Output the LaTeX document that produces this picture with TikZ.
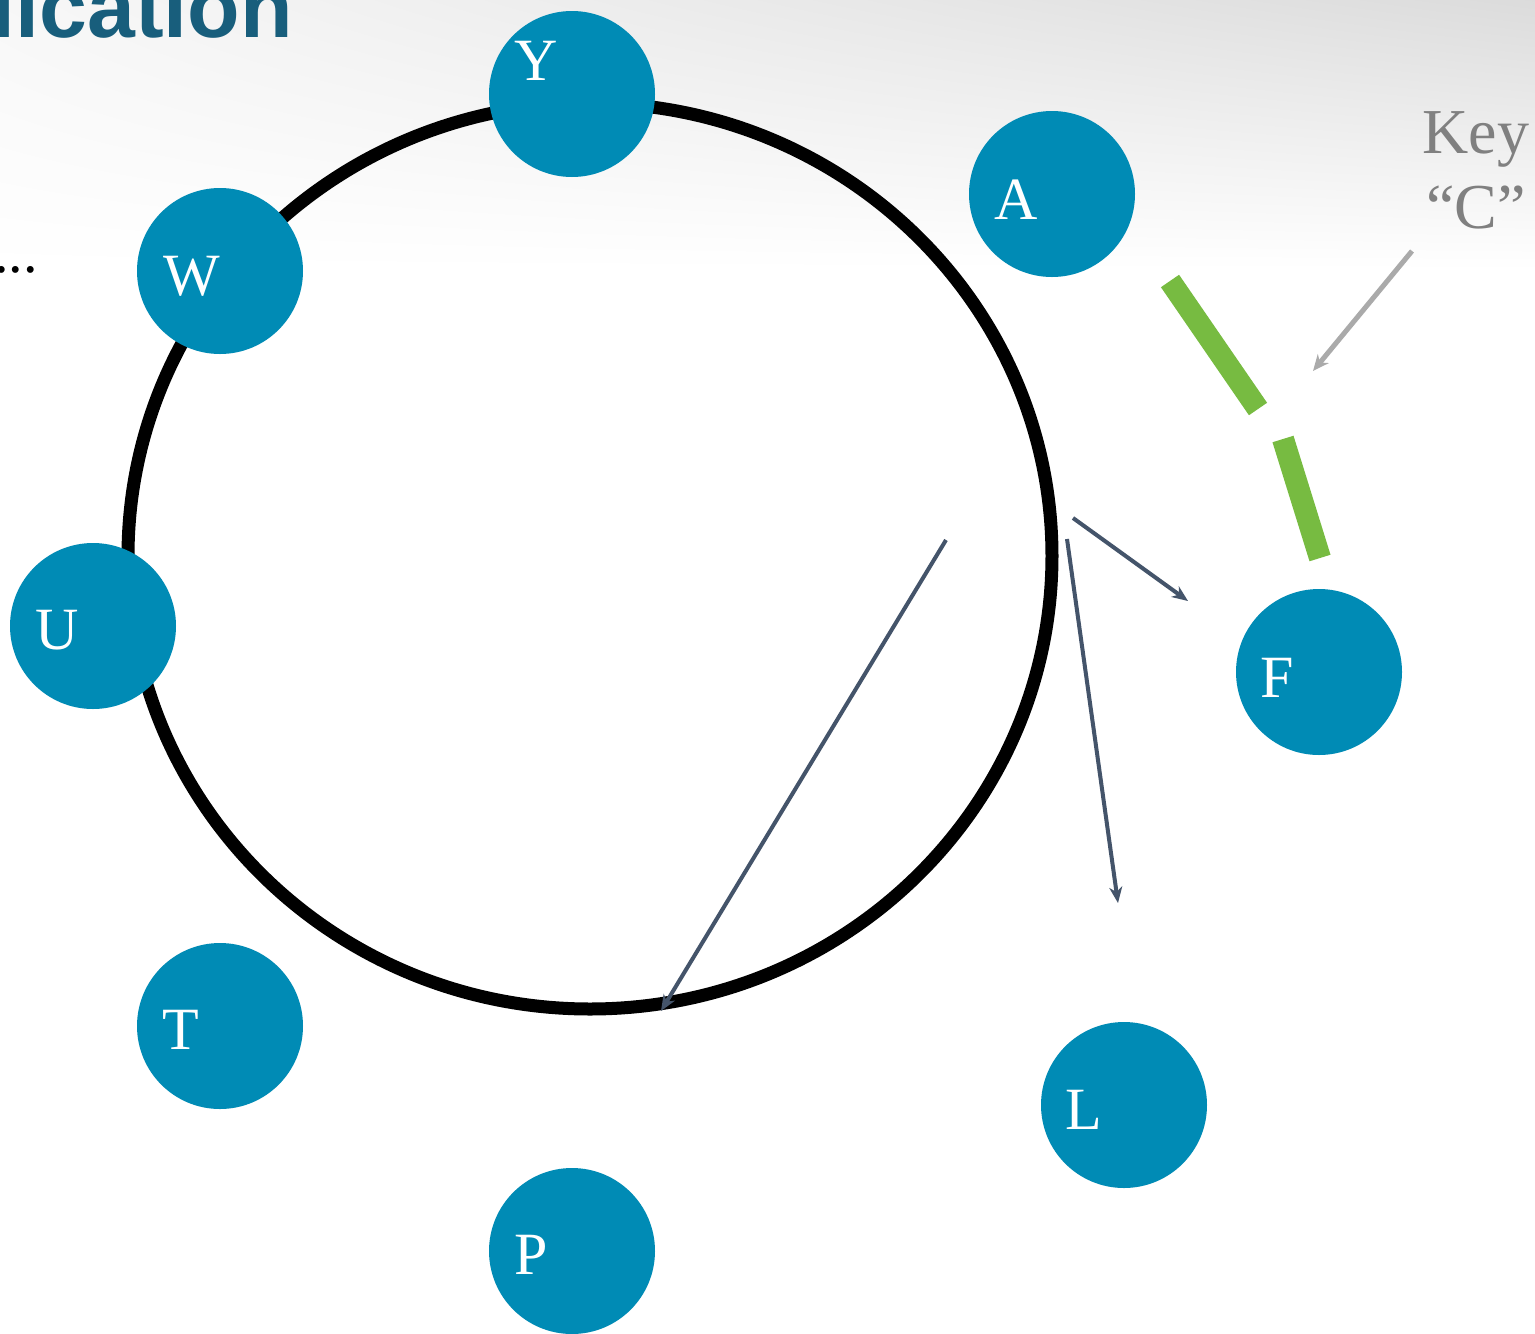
\documentclass[tikz,border=0pt]{standalone}
\usepackage{fontspec}
\setmainfont{Liberation Serif}
\newfontfamily\titlefont{Liberation Sans}
\usetikzlibrary{arrows.meta,shadings}
\definecolor{nodeblue}{RGB}{0,139,181}
\definecolor{ringarrow}{RGB}{68,84,106}
\definecolor{keygreen}{RGB}{119,187,65}
\definecolor{keygray}{RGB}{128,128,128}
\definecolor{pointergray}{RGB}{170,170,170}
\definecolor{titleblue}{RGB}{24,94,124}
\tikzset{
  ball/.style={circle, fill=nodeblue, minimum size=166pt, inner sep=0pt},
  balltext/.style={text=white, inner sep=0pt, font=\fontsize{60}{60}\selectfont},
  ringline/.style={line width=13pt, black},
  hoparrow/.style={line width=4pt, ringarrow, -{Stealth[length=16pt,width=13pt,inset=5pt]}},
  keybar/.style={line width=22pt, keygreen},
  keypointer/.style={line width=5pt, pointergray, -{Stealth[length=16pt,width=14pt,inset=5pt]}},
}
\begin{document}
\begin{tikzpicture}[x=1pt,y=-1pt]
\useasboundingbox (0,0) rectangle (1535,1334);
\fill[white] (0,0) rectangle (1535,1334);
\shade[upper left=black!3, upper right=black!14, lower left=white, lower right=white] (0,0) rectangle (1535,270);
% title fragment
\node[anchor=base east, inner sep=0pt, text=titleblue, font=\titlefont\bfseries\fontsize{86}{86}\selectfont] (title) at (293,37) {lication};
\node[anchor=base east, inner sep=0pt, font=\fontsize{58}{58}\selectfont] (dots) at (38,272) {...};
% ring
\draw[ringline] (590,556) ellipse [x radius=462, y radius=453];
% nodes
\node[ball] (Y) at (572,94) {};
\node[ball] (W) at (220,271) {};
\node[ball] (U) at (93,626) {};
\node[ball] (T) at (220,1026) {};
\node[ball] (P) at (572,1251) {};
\node[ball] (L) at (1124,1105) {};
\node[ball] (F) at (1319,672) {};
\node[ball] (A) at (1052,194) {};
\node[balltext] (Ylbl) at (536,61) {Y};
\node[balltext] (Wlbl) at (192,276) {W};
\node[balltext] (Ulbl) at (57,630) {U};
\node[balltext] (Tlbl) at (181,1030) {T};
\node[balltext] (Plbl) at (531,1255) {P};
\node[balltext] (Llbl) at (1084,1110) {L};
\node[balltext] (Flbl) at (1277,678) {F};
\node[balltext] (Albl) at (1016,200) {A};
% hop arrows
\coordinate (h1s) at (1073,518);
\coordinate (h1e) at (1188,601);
\coordinate (h2s) at (1067,539);
\coordinate (h2e) at (1118,903);
\coordinate (h3s) at (946,540);
\coordinate (h3e) at (661,1011);
\draw[hoparrow] (h1s) -- (h1e);
\draw[hoparrow] (h2s) -- (h2e);
\draw[hoparrow] (h3s) -- (h3e);
% key range bars
\coordinate (b1s) at (1170,281);
\coordinate (b1e) at (1258,409);
\coordinate (b2s) at (1283,439);
\coordinate (b2e) at (1320,558);
\draw[keybar] (b1s) -- (b1e);
\draw[keybar] (b2s) -- (b2e);
% key label
\node[text=keygray, align=center, inner sep=0pt, font=\fontsize{64}{75}\selectfont] (key) at (1476,170) {Key\\``C''};
\coordinate (kps) at (1412,251);
\coordinate (kpe) at (1313,371);
\draw[keypointer] (kps) -- (kpe);
\end{tikzpicture}
\end{document}
